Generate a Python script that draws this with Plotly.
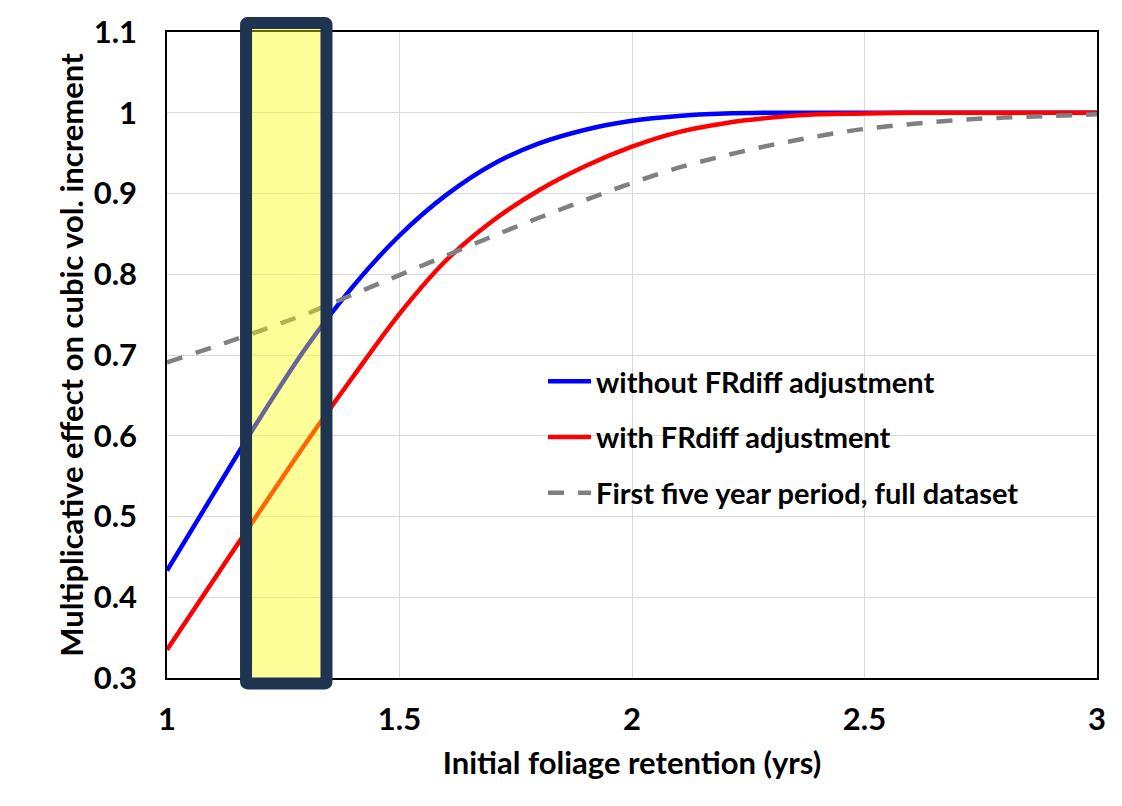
import plotly.graph_objects as go

# Initial foliage retention (yrs)
fr = [1.0, 1.1, 1.2, 1.3, 1.4, 1.5, 1.6, 1.7, 1.8, 1.9, 2.0, 2.1, 2.2, 2.3,
      2.4, 2.5, 2.6, 2.7, 2.8, 2.9, 3.0]

# Multiplicative effect on cubic volume increment
without_adj = [0.433, 0.528, 0.622, 0.710, 0.785, 0.848, 0.898, 0.936, 0.962,
               0.979, 0.990, 0.996, 0.999, 1.000, 1.000, 1.000, 1.000, 1.000,
               1.000, 1.000, 1.000]
with_adj = [0.335, 0.421, 0.507, 0.592, 0.673, 0.751, 0.817, 0.866, 0.904,
            0.934, 0.958, 0.976, 0.987, 0.994, 0.998, 0.999, 1.000, 1.000,
            1.000, 1.000, 1.000]
full_dataset = [0.691, 0.710, 0.730, 0.751, 0.775, 0.799, 0.823, 0.847, 0.870,
                0.892, 0.913, 0.932, 0.947, 0.960, 0.971, 0.980, 0.986, 0.991,
                0.994, 0.996, 0.998]

names = ["without FRdiff adjustment", "with FRdiff adjustment",
         "First five year period, full dataset"]

# highlighted retention range
BAND_X = [1.17, 1.343]

X_RANGE = [1, 3]
Y_RANGE = [0.3, 1.1]

FONT = "Lato"
W, H = 1122, 806
M = dict(l=167, r=25, t=32, b=128)
plot_w = W - M["l"] - M["r"]
plot_h = H - M["t"] - M["b"]

fig = go.Figure()
fig.add_trace(go.Scatter(x=fr, y=without_adj, name=names[0], mode="lines",
                         line=dict(color="#0000FF", width=4.5, shape="spline"),
                         legendgroup="a"))
fig.add_trace(go.Scatter(x=fr, y=with_adj, name=names[1], mode="lines",
                         line=dict(color="#FF0000", width=4.5, shape="spline"),
                         legendgroup="b"))
fig.add_trace(go.Scatter(x=fr, y=full_dataset, name=names[2], mode="lines",
                         line=dict(color="#808080", width=4.5, shape="spline",
                                   dash="16px,14px"),
                         legendgroup="c"))

# rounded highlight box (paper coordinates)
x0 = (BAND_X[0] - X_RANGE[0]) / (X_RANGE[1] - X_RANGE[0])
x1 = (BAND_X[1] - X_RANGE[0]) / (X_RANGE[1] - X_RANGE[0])
y1 = 1 + 9 / plot_h
y0 = -5.5 / plot_h
rx = 1.5 / plot_w
ry = 1.5 / plot_h
path = (f"M{x0+rx},{y1} L{x1-rx},{y1} Q{x1},{y1} {x1},{y1-ry} "
        f"L{x1},{y0+ry} Q{x1},{y0} {x1-rx},{y0} L{x0+rx},{y0} "
        f"Q{x0},{y0} {x0},{y0+ry} L{x0},{y1-ry} Q{x0},{y1} {x0+rx},{y1} Z")
fig.add_shape(type="path", path=path, xref="paper", yref="paper",
              fillcolor="rgba(255,255,0,0.4)",
              line=dict(color="#1F3451", width=12), layer="above")

fig.update_layout(
    width=W, height=H, margin=M,
    paper_bgcolor="white", plot_bgcolor="white",
    font=dict(family=FONT, color="black", size=30, weight="bold"),
    showlegend=True,
    legend=dict(x=(543 - M["l"]) / plot_w, y=(H - M["b"] - 356) / plot_h,
                xanchor="left", yanchor="top", bgcolor="rgba(0,0,0,0)",
                font=dict(family=FONT, size=29, weight="bold"),
                tracegroupgap=15, itemwidth=43),
)
fig.update_xaxes(range=X_RANGE, tickvals=[1, 1.5, 2, 2.5, 3],
                 ticktext=["1", "1.5", "2", "2.5", "3"],
                 showgrid=True, gridcolor="#D9D9D9", gridwidth=1,
                 showline=True, linecolor="black", linewidth=1.5, mirror=True,
                 zeroline=False, ticks="", ticklabelstandoff=13,
                 tickfont=dict(size=31, weight="bold"),
                 title=dict(text="Initial foliage retention (yrs)", standoff=16,
                            font=dict(size=31, weight="bold")))
fig.update_yaxes(range=Y_RANGE, tickvals=[0.3, 0.4, 0.5, 0.6, 0.7, 0.8, 0.9, 1.0, 1.1],
                 ticktext=["0.3", "0.4", "0.5", "0.6", "0.7", "0.8", "0.9", "1", "1.1"],
                 showgrid=True, gridcolor="#D9D9D9", gridwidth=1,
                 showline=True, linecolor="black", linewidth=1.5, mirror=True,
                 zeroline=False, ticks="", ticklabelstandoff=22,
                 tickfont=dict(size=31, weight="bold"),
                 title=dict(text="Multiplicative effect on cubic vol. increment",
                            standoff=1, font=dict(size=31, weight="bold")))

fig.write_html("out.html")
